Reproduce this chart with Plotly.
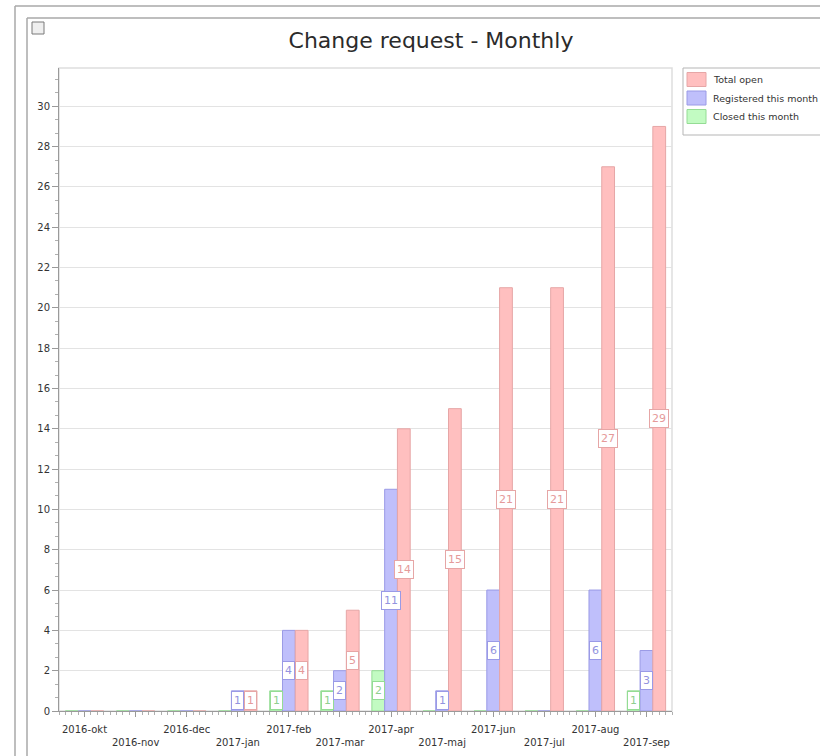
import plotly.graph_objects as go

# Monthly change request figures
months = ["2016-okt", "2016-nov", "2016-dec", "2017-jan", "2017-feb", "2017-mar",
          "2017-apr", "2017-maj", "2017-jun", "2017-jul", "2017-aug", "2017-sep"]
total_open = [0, 0, 0, 1, 4, 5, 14, 15, 21, 21, 27, 29]
registered = [0, 0, 0, 1, 4, 2, 11, 1, 6, 0, 6, 3]
closed = [0, 0, 0, 0, 1, 1, 2, 0, 0, 0, 0, 1]

W, H = 820, 756
L, R, T, B = 59, 672, 68, 711  # plot area in pixels

def px_x(p):
    return (p - L) / (R - L)

def px_y(p):
    return (B - p) / (B - T)

FONT = "DejaVu Sans"

series = [
    ("Closed this month", closed, "#c2fbc2", "#94dc94", "#8fd08f"),
    ("Registered this month", registered, "#bfbffb", "#9a9ae6", "#9393e0"),
    ("Total open", total_open, "#ffbfbf", "#e6a6a6", "#e59a9a"),
]

x_idx = list(range(len(months)))
fig = go.Figure()
for name, vals, fill, line, txt in series:
    fig.add_trace(go.Bar(
        x=x_idx, y=vals, name=name, showlegend=False,
        marker=dict(color=fill, line=dict(color=line, width=1)),
        hoverinfo="y+name",
    ))

# value labels centred in each non-zero bar
bar_w = 0.25
annotations = []
for k, (name, vals, fill, line, txt) in enumerate(series):
    off = (k - 1) * bar_w
    for i, v in enumerate(vals):
        if v:
            annotations.append(dict(
                x=i + off, y=v / 2, xref="x", yref="y", text=str(v),
                showarrow=False, bgcolor="white", bordercolor=line,
                borderwidth=1, borderpad=2,
                font=dict(family=FONT, size=11, color=txt),
            ))

# staggered month labels: odd months on a second row
tick_text = [m if i % 2 == 0 else "<br>" + m for i, m in enumerate(months)]

frame = "#a9a9a9"
shapes = [
    # plot border
    dict(type="rect", xref="paper", yref="paper", x0=0, x1=1, y0=0, y1=1,
         line=dict(color="#dedede", width=1.5), layer="below"),
    # outer window frame
    dict(type="line", xref="paper", yref="paper", x0=px_x(15), x1=px_x(W + 5),
         y0=px_y(6), y1=px_y(6), line=dict(color=frame, width=1.5)),
    dict(type="line", xref="paper", yref="paper", x0=px_x(15), x1=px_x(15),
         y0=px_y(6), y1=px_y(H + 5), line=dict(color=frame, width=1.5)),
    dict(type="line", xref="paper", yref="paper", x0=px_x(27), x1=px_x(W + 5),
         y0=px_y(18), y1=px_y(18), line=dict(color=frame, width=1.5)),
    dict(type="line", xref="paper", yref="paper", x0=px_x(27), x1=px_x(27),
         y0=px_y(18), y1=px_y(H + 5), line=dict(color=frame, width=1.5)),
    # checkbox
    dict(type="rect", xref="paper", yref="paper", x0=px_x(32), x1=px_x(44),
         y0=px_y(22), y1=px_y(34), line=dict(color="#7a7a7a", width=1),
         fillcolor="#efefef"),
    # legend box
    dict(type="rect", xref="paper", yref="paper", x0=px_x(683), x1=px_x(W + 10),
         y0=px_y(135), y1=px_y(68), line=dict(color="#b5b5b5", width=1),
         fillcolor="white"),
]

# legend entries, top to bottom
legend_rows = list(reversed(series))
for j, (name, vals, fill, line, txt) in enumerate(legend_rows):
    cy = 79.5 + j * 18.5
    shapes.append(dict(
        type="rect", xref="paper", yref="paper",
        x0=px_x(687), x1=px_x(706), y0=px_y(cy + 7), y1=px_y(cy - 7),
        line=dict(color=line, width=1), fillcolor=fill))
    annotations.append(dict(
        x=px_x(711), y=px_y(cy), xref="paper", yref="paper", text=name,
        xanchor="left", yanchor="middle", showarrow=False,
        font=dict(family=FONT, size=9.5, color="#333333")))

fig.update_layout(
    width=W, height=H,
    margin=dict(l=L, r=W - R, t=T, b=H - B, autoexpand=False),
    paper_bgcolor="white", plot_bgcolor="white",
    barmode="group", bargap=0.25, bargroupgap=0,
    showlegend=False,
    title=dict(text="Change request - Monthly", x=431 / W, xanchor="center",
               y=1 - 40 / H, yanchor="middle", yref="container",
               font=dict(family=FONT, size=22, color="#2b2b2b")),
    font=dict(family=FONT, size=10, color="#333333"),
    xaxis=dict(
        range=[-0.5, 11.5], tickmode="array", tickvals=x_idx, ticktext=tick_text,
        showgrid=False, zeroline=False, showline=True, linecolor="#9a9a9a",
        ticks="outside", ticklen=5, tickcolor="#9a9a9a", ticklabelstandoff=4,
        minor=dict(dtick=0.125, tick0=0, ticks="outside", ticklen=3,
                   tickcolor="#b0b0b0", showgrid=False),
        tickfont=dict(family=FONT, size=10, color="#333333"),
        fixedrange=True,
    ),
    yaxis=dict(
        range=[0, 31.9], dtick=2, tick0=0, showgrid=True, gridcolor="#e3e3e3",
        zeroline=False, showline=True, linecolor="#9a9a9a",
        ticks="outside", ticklen=6, tickcolor="#9a9a9a",
        minor=dict(dtick=2 / 3, tick0=0, ticks="outside", ticklen=3,
                   tickcolor="#b0b0b0", showgrid=False),
        tickfont=dict(family=FONT, size=10, color="#333333"),
        fixedrange=True,
    ),
    shapes=shapes,
    annotations=annotations,
)

fig.write_html("out.html")
